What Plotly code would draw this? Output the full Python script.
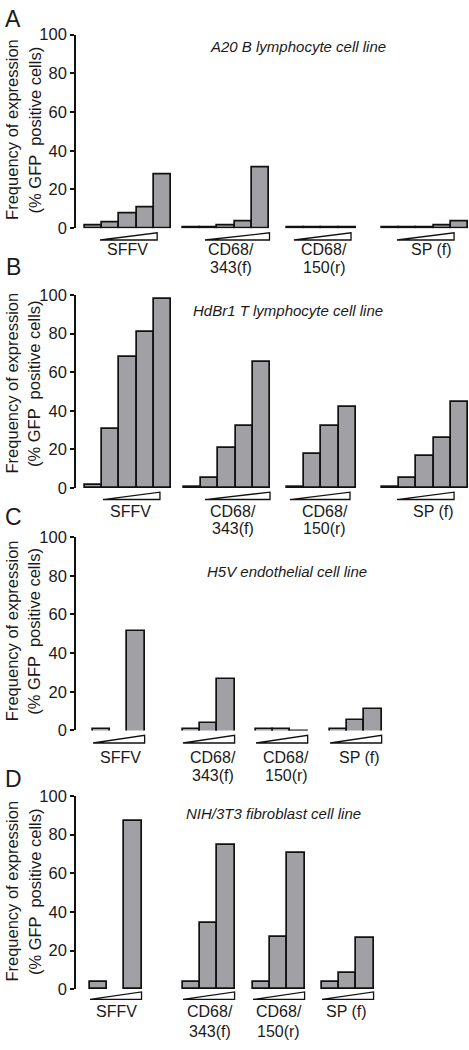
import plotly.graph_objects as go

# ---------------- data ----------------
categories = ["SFFV", "CD68/<br>343(f)", "CD68/<br>150(r)", "SP (f)"]
panel_letters = ["A", "B", "C", "D"]
cell_lines = [
    "A20 B lymphocyte cell line",
    "HdBr1 T lymphocyte cell line",
    "H5V endothelial cell line",
    "NIH/3T3 fibroblast cell line",
]
y_tick_values = [0, 20, 40, 60, 80, 100]
y_title_line1 = "Frequency of expression"
y_title_line2 = "(% GFP  positive cells)"

# Panel A - A20 B lymphocyte
a20_sffv = [1.4, 3.0, 7.3, 10.8, 27.6]
a20_cd68_343 = [0.2, 0.5, 1.4, 3.4, 31.5]
a20_cd68_150 = [0.3, 0.3, 0.3, 0.3]
a20_sp = [0.2, 0.3, 0.5, 1.2, 3.6]

# Panel B - HdBr1 T lymphocyte
hdbr1_sffv = [1.5, 30.8, 68.0, 80.8, 97.8]
hdbr1_cd68_343 = [0.3, 5.4, 20.7, 32.3, 65.3]
hdbr1_cd68_150 = [0.3, 17.5, 32.0, 42.2]
hdbr1_sp = [0.3, 4.9, 16.8, 25.9, 44.6]

# Panel C - H5V endothelial (middle SFFV dose not shown)
h5v_sffv = [0.7, None, 51.5]
h5v_cd68_343 = [0.7, 3.7, 26.6]
h5v_cd68_150 = [0.6, 0.6, -0.3]
h5v_sp = [0.7, 5.1, 10.8]

# Panel D - NIH/3T3 fibroblast (middle SFFV dose not shown)
nih_sffv = [3.7, None, 87.0]
nih_cd68_343 = [3.7, 34.4, 74.4]
nih_cd68_150 = [3.7, 27.1, 70.5]
nih_sp = [3.7, 8.3, 26.4]

panel_data = [
    [a20_sffv, a20_cd68_343, a20_cd68_150, a20_sp],
    [hdbr1_sffv, hdbr1_cd68_343, hdbr1_cd68_150, hdbr1_sp],
    [h5v_sffv, h5v_cd68_343, h5v_cd68_150, h5v_sp],
    [nih_sffv, nih_cd68_343, nih_cd68_150, nih_sp],
]

# ---------------- layout configuration (pixels / bar units) ----------------
W, H = 469, 1050
AXIS_X = 76.0        # px of the y axis line
BAR_PX = 17.2        # px per bar slot
X_MAX = (W - AXIS_X) / BAR_PX

layout_cfg = [
    dict(top=26.0, zero=223.0, starts=[0.52, 6.22, 12.27, 17.79], base=0.0,
         tri=[(1.40, 4.72), (7.50, 11.25), (12.67, 15.99), (18.66, 21.98)], tri_y=(2.4, 6.1),
         lab_x=[3.02, 9.01, 14.42, 20.64], lab_y=(245.0, 262.5),
         sub=(298, 38), letter_y=10, ytitle_y=123),
    dict(top=291.0, zero=487.3, starts=[0.52, 6.28, 12.27, 17.79], base=0.0,
         tri=[(1.57, 4.88), (7.50, 11.28), (12.44, 15.93), (18.66, 21.98)], tri_y=(2.2, 6.0),
         lab_x=[3.14, 9.13, 14.45, 20.81], lab_y=(511.0, 528.5),
         sub=(288, 307), letter_y=262, ytitle_y=381),
    dict(top=537.3, zero=734.0, starts=[0.99, 6.22, 10.47, 14.77], base=-1.3,
         tri=None, tri_y=(2.5, 6.5),
         lab_x=[2.56, 7.94, 12.21, 16.51], lab_y=(762.0, 780.0),
         sub=(287, 572), letter_y=517, ytitle_y=633),
    dict(top=800.7, zero=997.3, starts=[0.81, 6.22, 10.29, 14.30], base=0.0,
         tri=None, tri_y=(1.4, 5.3),
         lab_x=[2.38, 7.79, 11.80, 15.73], lab_y=(1020.0, 1040.0),
         sub=(273, 819), letter_y=783, ytitle_y=898),
]

FONT = "Liberation Sans, Arial, Helvetica, sans-serif"
TXT = "#1a1a1a"
BAR_FILL = "#a0a0a5"
EDGE = "#111111"

fig = go.Figure()
shapes = []
annotations = []

for p, (groups, cfg) in enumerate(zip(panel_data, layout_cfg)):
    n = p + 1
    xid = "x" if n == 1 else f"x{n}"
    yid = "y" if n == 1 else f"y{n}"
    for g, vals in enumerate(groups):
        start = cfg["starts"][g]
        xs = [start + i + 0.5 for i in range(len(vals))]
        ys = [None if v is None else v - cfg["base"] for v in vals]
        fig.add_trace(go.Bar(
            x=xs, y=ys, base=cfg["base"], width=1.0,
            marker=dict(color=BAR_FILL, line=dict(color=EDGE, width=1.7)),
            xaxis=xid, yaxis=yid, showlegend=False, cliponaxis=False,
            hoverinfo="skip",
        ))
        # dose wedge
        if cfg["tri"] is not None:
            t0, t1 = cfg["tri"][g]
        else:
            t0, t1 = start, start + len(vals)
        yt = -cfg["tri_y"][0] / 100.0
        yb = -cfg["tri_y"][1] / 100.0
        shapes.append(dict(
            type="path", xref=xid, yref=f"{yid} domain",
            path=f"M {t0},{yb} L {t1},{yb} L {t1},{yt} Z",
            fillcolor="white", line=dict(color=EDGE, width=1.3), layer="above",
        ))
        # category labels
        lines = categories[g].split("<br>")
        for li, line in enumerate(lines):
            annotations.append(dict(
                text=line, xref=xid, yref="paper",
                x=cfg["lab_x"][g], y=1 - cfg["lab_y"][li] / H,
                xanchor="center", yanchor="middle", showarrow=False,
                font=dict(family=FONT, size=16, color=TXT),
            ))
    # axes
    dom_y = [1 - cfg["zero"] / H, 1 - cfg["top"] / H]
    fig.layout[("xaxis" if n == 1 else f"xaxis{n}")] = dict(
        domain=[AXIS_X / W, 1.0], range=[0, X_MAX], visible=False, anchor=yid,
        fixedrange=True,
    )
    fig.layout[("yaxis" if n == 1 else f"yaxis{n}")] = dict(
        domain=dom_y, range=[0, 100], anchor=xid,
        tickvals=y_tick_values, ticks="outside", ticklen=4, tickwidth=1.5,
        tickcolor=EDGE, showline=True, linewidth=1.6, linecolor=EDGE,
        showgrid=False, zeroline=False, fixedrange=True,
        tickfont=dict(family=FONT, size=16.5, color=TXT),
    )
    # subtitle
    annotations.append(dict(
        text=cell_lines[p], xref="paper", yref="paper",
        x=cfg["sub"][0] / W, y=1 - cfg["sub"][1] / H,
        xanchor="center", yanchor="middle", showarrow=False,
        font=dict(family=FONT, size=15, color=TXT, style="italic"),
    ))
    # panel letter
    annotations.append(dict(
        text=panel_letters[p], xref="paper", yref="paper",
        x=13 / W, y=1 - cfg["letter_y"] / H,
        xanchor="center", yanchor="middle", showarrow=False,
        font=dict(family=FONT, size=23, color=TXT),
    ))
    # y-axis title (two lines)
    for tx, lx in ((y_title_line1, 12.0), (y_title_line2, 34.5)):
        annotations.append(dict(
            text=tx, xref="paper", yref="paper",
            x=lx / W, y=1 - cfg["ytitle_y"] / H,
            xanchor="center", yanchor="middle", showarrow=False, textangle=-90,
            font=dict(family=FONT, size=16.5, color=TXT),
        ))

fig.update_layout(
    width=W, height=H,
    margin=dict(l=0, r=0, t=0, b=0),
    paper_bgcolor="white", plot_bgcolor="white",
    barmode="overlay", bargap=0,
    shapes=shapes, annotations=annotations,
    showlegend=False,
)

fig.write_html(
    "out.html",
    config={"displayModeBar": False},
    post_script="document.body.style.margin='0';document.body.style.overflow='hidden';",
)
